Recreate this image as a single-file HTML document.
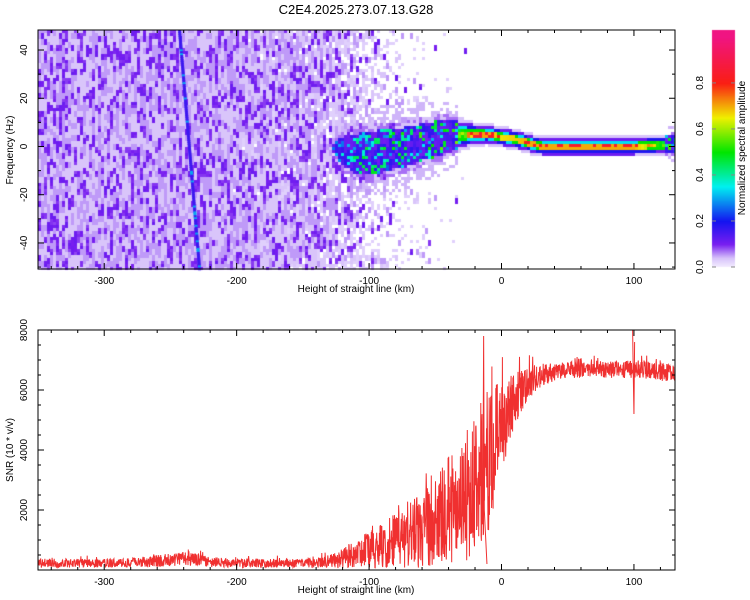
<!DOCTYPE html>
<html><head><meta charset="utf-8">
<style>
body{margin:0;background:#fff;}
#wrap{position:relative;width:750px;height:600px;overflow:hidden;font-family:"Liberation Sans",sans-serif;}
canvas{position:absolute;left:0;top:0;}
svg{position:absolute;left:0;top:0;}
text{font-family:"Liberation Sans",sans-serif;fill:#000;}
</style></head>
<body>
<div id="wrap">
<canvas id="spec" width="750" height="600"></canvas>
<svg id="svg" width="750" height="600"></svg>
</div>
<script>
// ---- data ----
const heights = [-350,-340,-330,-320,-310,-300,-290,-280,-270,-260,-250,-240,-230,-220,-210,-200,-190,-180,-170,-160,-150,-140,-130,-120,-110,-100,-90,-80,-70,-60,-50,-40,-30,-20,-10,0,10,20,30,40,50,60,70,80,90,100,110,120,130];
const noiseDensity = [1,1,1,1,1,1,1,1,1,1,1,1,1,1,1,0.98,0.95,0.92,0.9,0.88,0.85,0.8,0.75,0.6,0.45,0.32,0.22,0.14,0.09,0.05,0.03,0.02,0.01,0,0,0,0,0,0,0,0,0,0,0,0,0,0,0,0];
const ridgeFreq = [0,0,0,0,0,0,0,0,0,0,0,0,0,0,0,0,0,0,0,0,0,0,0,-2,-3,-3,-2,-1,0,2,3,4,5,5,5,4,3,1.5,0,0,0,0,0,0,0,0,0.3,0.6,1];
const ridgeWidth = [0,0,0,0,0,0,0,0,0,0,0,0,0,0,0,0,0,0,0,0,0,0,0,8,11,12,12,11,11,10,10,9,7,5,4.5,4.5,4.5,4.5,4.5,4.5,4.5,4.5,4.5,4.5,4.5,4.5,4.5,4.5,4.5];
const ridgeAmp = [0,0,0,0,0,0,0,0,0,0,0,0,0,0,0,0,0,0,0,0,0,0,0,0.2,0.3,0.35,0.35,0.38,0.4,0.42,0.45,0.45,0.6,0.88,0.85,0.8,0.82,0.85,0.85,0.85,0.85,0.85,0.85,0.85,0.85,0.85,0.75,0.6,0.45];
const streakTop = [-243,48];
const streakBottom = [-228,-50];
const snrLow = [80,80,80,80,80,80,80,80,90,100,120,150,130,100,90,80,80,80,80,80,80,80,60,50,50,50,50,50,50,80,100,150,250,400,1200,3200,4800,5700,6100,6300,6400,6400,6450,6400,6400,6400,6350,6300,6300];
const snrHigh = [380,380,380,380,380,380,380,400,450,500,550,600,550,450,400,380,380,380,380,380,380,400,500,750,1000,1300,1600,1900,2200,2600,3100,3800,4500,5400,6000,6300,6600,6800,6900,6900,6950,6950,7000,6950,6950,7000,6950,6900,6850];
const xTicks = [-300,-200,-100,0,100];
const fTicks = [-40,-20,0,20,40];
const snrTicks = [2000,4000,6000,8000];
const cbTicks = [0.0,0.2,0.4,0.6,0.8];

// ---- axes ----
const X0=38,X1=675, XMIN=-350, XMAX=131;
const xS = v => X0 + (v-XMIN)/(XMAX-XMIN)*(X1-X0);
const T0=30,T1=269, FMIN=-50.8, FMAX=48.3;
const fS = v => T1 - (v-FMIN)/(FMAX-FMIN)*(T1-T0);
const B0=330,B1=570;
const sS = v => B1 - v/8000*(B1-B0);
const C0=30,C1=267;
const cS = v => C1 - v/1.03*(C1-C0);

function interp(arr,h){
  if(h<=heights[0])return arr[0];
  for(let i=0;i<heights.length-1;i++){
    if(h<=heights[i+1]){const t=(h-heights[i])/(heights[i+1]-heights[i]);return arr[i]*(1-t)+arr[i+1]*t;}
  }
  return arr[arr.length-1];
}
function hash(a,b){let h=(a*374761393+b*668265263)|0;h=(h^(h>>>13))*1274126177|0;h=h^(h>>>16);return ((h>>>0)%100000)/100000;}
function cmap(v){
  const stops=[[0,[245,238,255]],[0.04,[215,195,250]],[0.1,[120,30,240]],[0.2,[20,20,240]],[0.35,[0,240,240]],[0.5,[0,230,0]],[0.65,[240,240,0]],[0.8,[250,30,20]],[1,[240,20,130]]];
  v=Math.max(0,Math.min(1,v));
  for(let i=0;i<stops.length-1;i++){
    if(v<=stops[i+1][0]){const t=(v-stops[i][0])/(stops[i+1][0]-stops[i][0]);const a=stops[i][1],b=stops[i+1][1];
      return `rgb(${Math.round(a[0]+(b[0]-a[0])*t)},${Math.round(a[1]+(b[1]-a[1])*t)},${Math.round(a[2]+(b[2]-a[2])*t)})`;}
  }
  return 'rgb(240,20,130)';
}

// ---- spectrogram ----
const cv=document.getElementById('spec');const ctx=cv.getContext('2d');
const CW=3,CH=3;
for(let px=X0,i=0;px<X1;px+=CW,i++){
  const h=XMIN+(px+CW/2-X0)/(X1-X0)*(XMAX-XMIN);
  const dens=interp(noiseDensity,h), rf=interp(ridgeFreq,h), rw=interp(ridgeWidth,h), ra=interp(ridgeAmp,h);
  const off=Math.floor(hash(i,4242)*2);
  for(let py=T0,j=0;py<T1;py+=CH,j++){
    const f=FMIN+(T1-py-CH/2)/(T1-T0)*(FMAX-FMIN);
    let v=-1;
    const blob=Math.floor((j+off)/2);
    const r=hash(i,blob*7+1), r2=hash(blob+999,i+77), r3=hash(i*3+j,j+11);
    if(r<dens){ v = r2<0.27? 0.085+r3*0.03 : (r2<0.62?0.055:0.038); }
    else if(r3<dens*0.9){ v=0.028; }
    if(rw>0){
      const d=Math.abs(f-rf)/rw;
      if(ra>0.55){
        if(d<1){
          let core;
          if(d>0.75) core=0.04; else if(d>0.58) core=0.11; else if(d>0.45) core=0.19;
          else if(d>0.35) core=0.34; else if(d>0.25) core=0.5; else core=0.7*ra/0.85;
          if(d<0.18 && r3<0.4) core=Math.max(core,0.82*ra/0.85+0.02);
          v=Math.max(v,core);
        }
      } else {
        if(d<1){
          let core = d<0.75 ? (r3<0.3? 0.25+ra*0.7*r2 : 0.1+0.08*r2) : (r3<0.6?0.07:0.04);
          v=Math.max(v,core);
        } else if(d<1.6 && r3<0.5){ v=Math.max(v,0.045); }
      }
    }
    if(v>=0){ctx.fillStyle=cmap(v);ctx.fillRect(px,py,CW,CH);}
  }
}
// streak
for(let f=FMAX;f>FMIN;f-=0.8){
  const t=(streakTop[1]-f)/(streakTop[1]-streakBottom[1]);
  const h=streakTop[0]+t*(streakBottom[0]-streakTop[0]);
  ctx.fillStyle=hash(Math.round(f*10),5)<0.12?cmap(0.3):cmap(0.16);
  ctx.fillRect(xS(h)-1.5,fS(f),3,3);
}
ctx.clearRect(X1,T0,20,T1-T0);
// colorbar
for(let y=C0;y<C1;y++){ctx.fillStyle=cmap((C1-y)/(C1-C0)*1.03);ctx.fillRect(712,y,23,1);}

// ---- SVG overlay ----
const svg=document.getElementById('svg');const NS='http://www.w3.org/2000/svg';
function el(tag,attrs,parent){const e=document.createElementNS(NS,tag);for(const k in attrs)e.setAttribute(k,attrs[k]);(parent||svg).appendChild(e);return e;}
function txt(s,x,y,attrs,name){const t=el('text',Object.assign({x:x,y:y,'font-size':10},attrs||{}));t.textContent=s;
  
  
  return t;}

txt('C2E4.2025.273.07.13.G28',356,14,{'font-size':13,'text-anchor':'middle'},'chart-title');

// SNR line
let d='';let k=0;
for(let px=X0;px<=X1;px+=0.3,k++){
  const h=XMIN+(px-X0)/(X1-X0)*(XMAX-XMIN);
  const lo=interp(snrLow,h), hi=interp(snrHigh,h);
  let r=hash(k,3);
  if(hash(k,9)<0.025) r=1+hash(k,13)*0.35;
  let v=Math.max(0,Math.min(8000,lo+r*(hi-lo)));
  d+=(d?'L':'M')+px.toFixed(1)+','+sS(v).toFixed(1);
}
const line=el('path',{d:d,fill:'none',stroke:'#f03030','stroke-width':1});


const spike=el('path',{d:`M${xS(99)},${sS(8000)}L${xS(99.5)},${sS(6500)}L${xS(100)},${sS(5200)}L${xS(100.5)},${sS(7600)}`,fill:'none',stroke:'#f03030','stroke-width':1});


const spike2=el('path',{d:`M${xS(-14)},${sS(3000)}L${xS(-13.5)},${sS(7800)}L${xS(-13)},${sS(2000)}L${xS(-11)},${sS(200)}`,fill:'none',stroke:'#f03030','stroke-width':1});



function frame(y0,y1,name){
  const r=el('rect',{x:X0,y:y0,width:X1-X0,height:y1-y0,fill:'none',stroke:'#000','stroke-width':1});
  
  
  for(let v=-340;v<=120;v+=20){
    const x=xS(v), big=v%100===0, L=big?6:3;
    el('line',{x1:x,x2:x,y1:y1,y2:y1-L,stroke:'#000'});
    el('line',{x1:x,x2:x,y1:y0,y2:y0+L,stroke:'#000'});
  }
  xTicks.forEach(v=>txt(String(v),xS(v),y1+15,{'text-anchor':'middle'},'x-tick-label'));
  txt('Height of straight line (km)',356,y1+23,{'text-anchor':'middle','font-size':10},'x-axis-title');
}
frame(T0,T1,'spectrogram-frame');
frame(B0,B1,'snr-frame');
for(let v=-50;v<=40;v+=10){const y=fS(v),big=v%20===0,L=big?6:3;
  el('line',{x1:X0,x2:X0+L,y1:y,y2:y,stroke:'#000'});el('line',{x1:X1,x2:X1-L,y1:y,y2:y,stroke:'#000'});}
fTicks.forEach(v=>txt(String(v),27,fS(v),{'text-anchor':'middle',transform:`rotate(-90 27 ${fS(v)})`},'y-tick-label'));
txt('Frequency (Hz)',13,150,{'text-anchor':'middle',transform:'rotate(-90 13 150)'},'y-axis-title');
for(let v=500;v<=8000;v+=500){const y=sS(v),big=v%2000===0,L=big?6:3;
  el('line',{x1:X0,x2:X0+L,y1:y,y2:y,stroke:'#000'});el('line',{x1:X1,x2:X1-L,y1:y,y2:y,stroke:'#000'});}
snrTicks.forEach(v=>txt(String(v),27,sS(v),{'text-anchor':'middle',transform:`rotate(-90 27 ${sS(v)})`},'snr-tick-label'));
txt('SNR (10 * v/v)',13,450,{'text-anchor':'middle',transform:'rotate(-90 13 450)'},'snr-axis-title');
const cb=el('rect',{x:712,y:C0,width:23,height:C1-C0,fill:'none',stroke:'none'});


cbTicks.forEach(v=>{const y=cS(v);
  el('line',{x1:712,x2:716,y1:y,y2:y,stroke:'#888'});el('line',{x1:731,x2:735,y1:y,y2:y,stroke:'#888'});
  txt(v.toFixed(1),703,y,{'text-anchor':'middle',transform:`rotate(-90 703 ${y})`},'colorbar-tick-label');});
txt('Normalized spectral amplitude',745,148,{'text-anchor':'middle',transform:'rotate(-90 745 148)'},'colorbar-title');
</script>
</body></html>
